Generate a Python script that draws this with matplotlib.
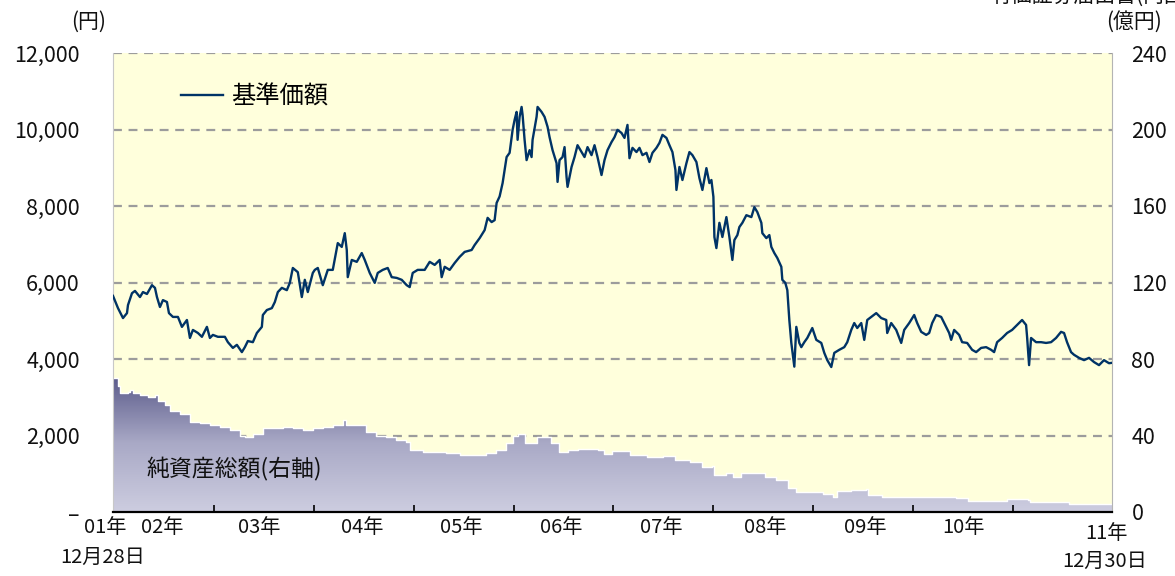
import numpy as np
import matplotlib
matplotlib.use('Agg')
import matplotlib.pyplot as plt
from matplotlib.colors import LinearSegmentedColormap
from matplotlib.patches import PathPatch
from matplotlib.transforms import blended_transform_factory

plt.rcParams['font.family'] = ['Noto Sans CJK JP', 'DejaVu Sans']

# ---------------- data ----------------
# 基準価額 (円), dates as decimal years
price_t = [2001.99, 2002.04, 2002.09, 2002.13, 2002.14, 2002.18, 2002.21, 2002.26, 2002.29, 2002.33,
           2002.38, 2002.41, 2002.43, 2002.46, 2002.49, 2002.53, 2002.55, 2002.59, 2002.64, 2002.68,
           2002.73, 2002.76, 2002.79, 2002.84, 2002.88, 2002.93, 2002.96, 2002.99, 2003.04, 2003.11,
           2003.14, 2003.19, 2003.23, 2003.28, 2003.31, 2003.34, 2003.39, 2003.43, 2003.48, 2003.49,
           2003.53, 2003.58, 2003.61, 2003.64, 2003.68, 2003.73, 2003.76, 2003.79, 2003.84, 2003.88,
           2003.91, 2003.94, 2003.99, 2004.01, 2004.04, 2004.09, 2004.14, 2004.19, 2004.24, 2004.28,
           2004.31, 2004.33, 2004.34, 2004.38, 2004.43, 2004.48, 2004.51, 2004.56, 2004.61, 2004.64,
           2004.69, 2004.74, 2004.78, 2004.83, 2004.88, 2004.93, 2004.96, 2004.99, 2005.04, 2005.11,
           2005.16, 2005.21, 2005.26, 2005.28, 2005.31, 2005.36, 2005.41, 2005.46, 2005.51, 2005.58,
           2005.61, 2005.66, 2005.71, 2005.74, 2005.78, 2005.81, 2005.83, 2005.86, 2005.89, 2005.93,
           2005.96, 2005.99, 2006.01, 2006.03, 2006.04, 2006.06, 2006.08, 2006.09, 2006.11, 2006.13,
           2006.16, 2006.18, 2006.19, 2006.23, 2006.24, 2006.28, 2006.31, 2006.34, 2006.36, 2006.39,
           2006.43, 2006.44, 2006.46, 2006.49, 2006.51, 2006.53, 2006.54, 2006.58, 2006.61, 2006.64,
           2006.68, 2006.71, 2006.74, 2006.78, 2006.81, 2006.84, 2006.88, 2006.91, 2006.94, 2006.98,
           2007.01, 2007.04, 2007.08, 2007.11, 2007.14, 2007.16, 2007.19, 2007.23, 2007.26, 2007.29,
           2007.33, 2007.36, 2007.39, 2007.43, 2007.46, 2007.49, 2007.53, 2007.56, 2007.59, 2007.62,
           2007.63, 2007.66, 2007.69, 2007.73, 2007.76, 2007.79, 2007.83, 2007.86, 2007.89, 2007.93,
           2007.96, 2007.98, 2008.00, 2008.01, 2008.03, 2008.06, 2008.09, 2008.13, 2008.16, 2008.19,
           2008.21, 2008.24, 2008.26, 2008.29, 2008.33, 2008.38, 2008.41, 2008.44, 2008.48, 2008.49,
           2008.53, 2008.56, 2008.58, 2008.61, 2008.64, 2008.68, 2008.69, 2008.72, 2008.74, 2008.76,
           2008.78, 2008.81, 2008.83, 2008.86, 2008.88, 2008.91, 2008.94, 2008.99, 2009.03, 2009.08,
           2009.11, 2009.14, 2009.18, 2009.21, 2009.26, 2009.31, 2009.34, 2009.38, 2009.41, 2009.44,
           2009.48, 2009.51, 2009.54, 2009.58, 2009.63, 2009.68, 2009.73, 2009.74, 2009.78, 2009.83,
           2009.88, 2009.91, 2009.96, 2010.01, 2010.04, 2010.08, 2010.13, 2010.16, 2010.19, 2010.23,
           2010.28, 2010.33, 2010.36, 2010.38, 2010.41, 2010.46, 2010.49, 2010.54, 2010.59, 2010.63,
           2010.68, 2010.73, 2010.78, 2010.81, 2010.84, 2010.89, 2010.94, 2010.99, 2011.04, 2011.09,
           2011.13, 2011.14, 2011.16, 2011.18, 2011.23, 2011.28, 2011.33, 2011.38, 2011.43, 2011.48,
           2011.51, 2011.54, 2011.58, 2011.61, 2011.66, 2011.71, 2011.76, 2011.81, 2011.86, 2011.91,
           2011.96, 2011.99]
price_v = [5650, 5330, 5070, 5200, 5410, 5720, 5780, 5620, 5750, 5700,
           5930, 5860, 5620, 5360, 5540, 5490, 5200, 5100, 5100, 4840,
           5020, 4550, 4760, 4680, 4580, 4840, 4550, 4630, 4580, 4580,
           4440, 4290, 4370, 4180, 4310, 4470, 4440, 4680, 4840, 5150,
           5280, 5330, 5490, 5750, 5860, 5800, 5990, 6380, 6270, 5620,
           6070, 5750, 6250, 6330, 6380, 5930, 6330, 6330, 7030, 6930,
           7290, 6850, 6140, 6590, 6540, 6770, 6590, 6250, 5990, 6250,
           6330, 6380, 6140, 6120, 6070, 5930, 5880, 6250, 6330, 6330,
           6540, 6460, 6590, 6140, 6410, 6330, 6510, 6670, 6800, 6850,
           6980, 7160, 7370, 7690, 7580, 7630, 8080, 8250, 8600, 9280,
           9390, 9990, 10250, 10460, 9730, 10330, 10590, 10380, 9730, 9200,
           9460, 9280, 9730, 10330, 10590, 10460, 10330, 10070, 9800, 9460,
           9120, 8630, 9200, 9280, 9540, 8760, 8500, 9020, 9280, 9590,
           9410, 9280, 9540, 9330, 9590, 9280, 8810, 9200, 9460, 9670,
           9800, 9990, 9910, 9780, 10120, 9250, 9520, 9410, 9520, 9330,
           9390, 9150, 9390, 9520, 9650, 9860, 9780, 9590, 9410, 8940,
           8420, 9020, 8680, 9120, 9410, 9330, 9150, 8730, 8420, 8990,
           8600, 8680, 8240, 7190, 6900, 7560, 7190, 7710, 7190, 6590,
           7110, 7240, 7450, 7560, 7760, 7710, 7970, 7840, 7560, 7290,
           7160, 7240, 6930, 6770, 6640, 6410, 6070, 5990, 5800, 5020,
           4420, 3800, 4840, 4420, 4310, 4440, 4550, 4810, 4500, 4420,
           4160, 3970, 3790, 4160, 4240, 4310, 4440, 4760, 4940, 4810,
           4940, 4500, 5020, 5100, 5200, 5070, 5020, 4680, 4940, 4760,
           4420, 4760, 4940, 5150, 4940, 4710, 4630, 4680, 4940, 5150,
           5100, 4840, 4680, 4500, 4760, 4630, 4440, 4420, 4240, 4180,
           4290, 4310, 4240, 4180, 4440, 4550, 4680, 4760, 4890, 5020,
           4890, 4580, 3840, 4550, 4440, 4440, 4420, 4440, 4550, 4710,
           4680, 4440, 4180, 4110, 4030, 3970, 4030, 3920, 3840, 3970,
           3890, 3900]

# 純資産総額 (億円)
asset_t = [2001.99, 2002.04, 2002.06, 2002.14, 2002.16, 2002.19, 2002.26, 2002.34, 2002.41, 2002.44,
           2002.51, 2002.56, 2002.66, 2002.76, 2002.86, 2002.96, 2003.06, 2003.16, 2003.26, 2003.31,
           2003.39, 2003.49, 2003.59, 2003.69, 2003.79, 2003.89, 2003.99, 2004.09, 2004.19, 2004.29,
           2004.32, 2004.42, 2004.52, 2004.62, 2004.72, 2004.82, 2004.92, 2004.96, 2005.09, 2005.22,
           2005.32, 2005.46, 2005.59, 2005.72, 2005.82, 2005.92, 2005.99, 2006.04, 2006.11, 2006.23,
           2006.37, 2006.45, 2006.54, 2006.64, 2006.84, 2006.90, 2006.99, 2007.15, 2007.17, 2007.34,
           2007.50, 2007.62, 2007.77, 2007.89, 2007.99, 2008.01, 2008.13, 2008.20, 2008.28, 2008.40,
           2008.52, 2008.63, 2008.75, 2008.83, 2008.99, 2009.10, 2009.20, 2009.24, 2009.38, 2009.53,
           2009.55, 2009.69, 2010.16, 2010.43, 2010.55, 2010.74, 2010.94, 2011.15, 2011.17, 2011.52,
           2011.56, 2011.99]
asset_v = [70, 66, 62, 63, 64, 62, 61, 60, 61, 58,
           56, 53, 51, 47, 46.5, 45.5, 44.5, 43, 40, 39,
           41, 44, 44, 44.5, 44, 43, 44, 44.5, 45.5, 48,
           45.5, 45.5, 42, 40, 39, 37.6, 36.6, 32.4, 31.4, 31.4,
           30.8, 29.8, 29.8, 30.8, 32.4, 36, 39.5, 41, 36, 39,
           36, 31.4, 32.4, 33, 32.4, 30.3, 31.9, 31.9, 29.8, 28.8,
           29.3, 27.2, 26.1, 23.5, 24, 19.3, 20.4, 18.3, 20.4, 20.4,
           18.3, 16.7, 12.5, 10.5, 10.5, 9.4, 7.8, 11, 11.5, 12,
           8.9, 7.8, 7.8, 7.3, 5.8, 5.8, 6.8, 6.3, 5.2, 5.2,
           4.2, 4.2]

left_ticks = [0, 2000, 4000, 6000, 8000, 10000, 12000]
left_labels = ['–', '2,000', '4,000', '6,000', '8,000', '10,000', '12,000']
right_ticks = [0, 40, 80, 120, 160, 200, 240]
right_labels = ['0', '40', '80', '120', '160', '200', '240']
year_ticks = [2003, 2004, 2005, 2006, 2007, 2008, 2009, 2010, 2011]
year_label_pos = [2002.48, 2003.45, 2004.48, 2005.48, 2006.48, 2007.48, 2008.52, 2009.52, 2010.5]
year_labels = ['02年', '03年', '04年', '05年', '06年', '07年', '08年', '09年', '10年']
start_label = ('01年', '12月28日')
end_label = ('11年', '12月30日')
x_min, x_max = 2001.99, 2011.99

# ---------------- figure ----------------
W, H = 1175, 576
fig = plt.figure(figsize=(W / 100, H / 100), dpi=100)
ax1 = fig.add_axes([113 / W, 64 / H, 999 / W, 459 / H])
ax2 = ax1.twinx()
ax2.set_zorder(1)
ax1.set_zorder(2)
ax1.patch.set_visible(False)
ax2.patch.set_visible(True)
ax2.patch.set_facecolor('#ffffdc')

ax1.set_xlim(x_min, x_max)
ax1.set_ylim(0, 12000)
ax2.set_ylim(0, 240)

# grid (behind area)
ax2.set_axisbelow(True)
ax2.set_yticks(right_ticks)
ax2.set_yticklabels(right_labels)
ax2.yaxis.grid(True, linestyle=(0, (4, 3)), color='#9c9c9c', lw=1.6)

# gradient area for net assets
poly = ax2.fill_between(asset_t, asset_v, 0, step='post', facecolor='none', lw=0)
clip = PathPatch(poly.get_paths()[0], transform=ax2.transData, facecolor='none', edgecolor='none')
ax2.add_patch(clip)
cmap = LinearSegmentedColormap.from_list('g', ['#cdcde0', '#a9a9c6', '#585888'])
grad = np.linspace(0, 1, 256).reshape(-1, 1)
im = ax2.imshow(grad, extent=[x_min, x_max, 0, 72], origin='lower', aspect='auto',
                cmap=cmap, zorder=1.5, interpolation='bilinear')
im.set_clip_path(clip)
ax2.step(asset_t, asset_v, where='post', color='white', lw=1.0, zorder=1.6)
ax2.set_ylim(0, 240)
ax2.set_xlim(x_min, x_max)

# price line
ax1.plot(price_t, price_v, color='#003366', lw=1.7, label='基準価額', zorder=3)

# spines
for ax in (ax1, ax2):
    ax.spines['top'].set_visible(False)
for s in ax2.spines.values():
    s.set_visible(False)
ax1.spines['left'].set_color('#c8c8c8')
ax1.spines['right'].set_color('#b4b4b4')
ax1.spines['bottom'].set_color('black')
ax1.spines['bottom'].set_linewidth(1.6)

# y ticks
ax1.set_yticks(left_ticks)
ax1.set_yticklabels(left_labels)
ax1.tick_params(axis='y', length=0, pad=24, labelsize=15.5, colors='#111111')
ax2.tick_params(axis='y', length=0, pad=14, labelsize=15.5, colors='#111111')

# x ticks
ax1.set_xticks(year_ticks)
ax1.set_xticklabels([])
ax1.tick_params(axis='x', direction='in', length=5, width=1.2, color='black')
ax2.tick_params(axis='x', length=0, labelbottom=False)

tr = blended_transform_factory(ax1.transData, ax1.transAxes)
fs_x = 14.5
for p, lab in zip(year_label_pos, year_labels):
    ax1.text(p, -0.034, lab, transform=tr, ha='center', va='center', fontsize=fs_x, color='#111111')
ax1.text(2001.91, -0.034, start_label[0], transform=tr, ha='center', va='center', fontsize=fs_x, color='#111111')
ax1.text(2001.89, -0.098, start_label[1], transform=tr, ha='center', va='center', fontsize=fs_x, color='#111111')
ax1.text(2011.93, -0.046, end_label[0], transform=tr, ha='center', va='center', fontsize=fs_x, color='#111111')
ax1.text(2011.92, -0.108, end_label[1], transform=tr, ha='center', va='center', fontsize=fs_x, color='#111111')

# legend and labels
ax1.legend(loc='center left', bbox_to_anchor=(0.068, 0.905), frameon=False, fontsize=17.5,
           handlelength=1.75, handletextpad=0.3, borderaxespad=0, borderpad=0)
ax1.text(0.034, 0.092, '純資産総額(右軸)', transform=ax1.transAxes, ha='left', va='center',
         fontsize=16.5, color='#111111')

fig.text(89 / W, 1 - 22 / H, '(円)', ha='center', va='center', fontsize=15, color='#111111')
fig.text(1134 / W, 1 - 22 / H, '(億円)', ha='center', va='center', fontsize=15, color='#111111')
fig.text(990 / W, 1 + 4 / H, '有価証券届出書(内国投資信託受益証券)', ha='left', va='center',
         fontsize=15, color='#111111')

fig.savefig('out.png', dpi=100)
